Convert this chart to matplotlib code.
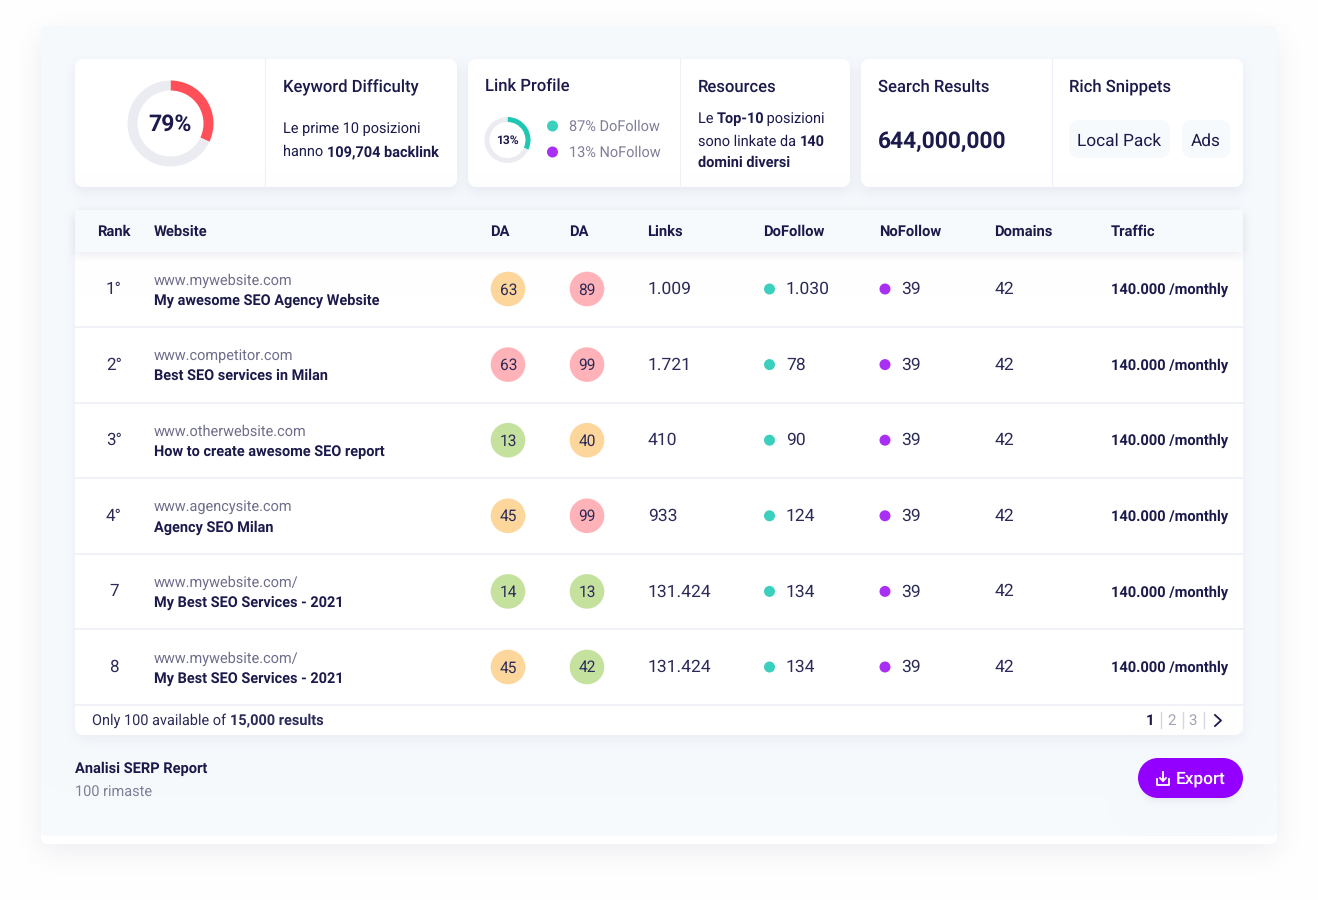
"""SERP report dashboard card, drawn in pixel coordinates."""
import math

import matplotlib

matplotlib.use("Agg")
import matplotlib.pyplot as plt
import numpy as np
from matplotlib.patches import Circle, FancyBboxPatch, Rectangle

plt.rcParams["font.family"] = ["Roboto", "DejaVu Sans"]
plt.rcParams["text.hinting"] = "no_hinting"

W, H = 1318, 900
NAVY = "#1b1a4b"
INK = "#2b2a58"
GREY = "#6e6d8a"
SOFT = "#7f7e98"
PANEL = "#f7fafd"
LINE = "#edf0f6"
TEAL = "#3bd0bd"
PURPLE = "#a92ff5"

# data
ranks = ["1°", "2°", "3°", "4°", "7", "8"]
urls = ["www.mywebsite.com", "www.competitor.com", "www.otherwebsite.com",
        "www.agencysite.com", "www.mywebsite.com/", "www.mywebsite.com/"]
titles = ["My awesome SEO Agency Website", "Best SEO services in Milan",
          "How to create awesome SEO report", "Agency SEO Milan",
          "My Best SEO Services - 2021", "My Best SEO Services - 2021"]
da_first = [63, 63, 13, 45, 14, 45]
da_first_level = ["mid", "high", "low", "mid", "low", "mid"]
da_second = [89, 99, 40, 99, 13, 42]
da_second_level = ["high", "high", "mid", "high", "low", "low"]
links = ["1.009", "1.721", "410", "933", "131.424", "131.424"]
dofollow = ["1.030", "78", "90", "124", "134", "134"]
nofollow = ["39", "39", "39", "39", "39", "39"]
domains = ["42", "42", "42", "42", "42", "42"]
traffic = ["140.000 /monthly"] * 6
headers = ["Rank", "Website", "DA", "DA", "Links", "DoFollow", "NoFollow", "Domains", "Traffic"]
pages = ["1", "2", "3"]
difficulty_arc = [32, 68]
link_arc = [32, 68]

level_colors = {"low": "#c4e29e", "mid": "#fdd69b", "high": "#ffb3b8"}
header_x = [97.5, 153.5, 490.5, 569.5, 647.5, 763.5, 879.5, 994.5, 1110.5]

fig = plt.figure(figsize=(W / 100, H / 100), dpi=100, facecolor="white")
ax = fig.add_axes([0, 0, 1, 1])
ax.set_xlim(0, W)
ax.set_ylim(H, 0)
ax.axis("off")

# soft shadows need more precision than 8-bit alpha stacking, so the
# backdrop is composited in float and shown as one image
canvas = np.ones((H, W, 3))
erf = np.vectorize(math.erf)
px = np.arange(W) + 0.5
py = np.arange(H) + 0.5


def rgb(color):
    return np.array(matplotlib.colors.to_rgb(color))


def paint_box(x0, y0, x1, y1, r, color):
    cx, cy = (x0 + x1) / 2, (y0 + y1) / 2
    qx = np.abs(px - cx)[None, :] - ((x1 - x0) / 2 - r)
    qy = np.abs(py - cy)[:, None] - ((y1 - y0) / 2 - r)
    dist = np.hypot(np.maximum(qx, 0), np.maximum(qy, 0)) + np.minimum(np.maximum(qx, qy), 0) - r
    mask = np.clip(0.5 - dist, 0, 1)[..., None]
    canvas[:] = canvas * (1 - mask) + rgb(color) * mask


def paint_shadow(x0, y0, x1, y1, sigma, dy, strength, color="#2a2a60"):
    s = sigma * math.sqrt(2)
    mx = 0.5 * (erf((px - x0) / s) - erf((px - x1) / s))
    my = 0.5 * (erf((py - y0 - dy) / s) - erf((py - y1 - dy) / s))
    mask = (my[:, None] * mx[None, :] * strength)[..., None]
    canvas[:] = canvas * (1 - mask) + rgb(color) * mask


def round_box(x0, y0, x1, y1, r=10, color="white", z=4):
    ax.add_patch(FancyBboxPatch((x0 + r, y0 + r), x1 - x0 - 2 * r, y1 - y0 - 2 * r,
                                boxstyle=f"round,pad={r},rounding_size={r}",
                                fc=color, ec="none", zorder=z))


def text(x, y, s, size=12, weight="normal", color=NAVY, ha="left", z=5):
    # y is the visual middle of the line; baselines keep neighbours level
    return ax.text(x, y + 0.36 * size - 0.2, s, fontsize=size * 0.72, fontweight=weight,
                   color=color, ha=ha, va="baseline", zorder=z)


def runs(x, y, parts, size=14.5, color=NAVY):
    # consecutive normal/bold pieces on one baseline
    renderer = fig.canvas.get_renderer()
    for s, weight in parts:
        t = text(x, y, s, size, weight, color)
        x += t.get_window_extent(renderer).width - (2 if weight == "bold" else 0)


def donut(cx, cy, radius, ring, values, color):
    inset = fig.add_axes([(cx - radius) / W, 1 - (cy + radius) / H, 2 * radius / W, 2 * radius / H])
    inset.pie(values, colors=[color, "#ebecf1"], startangle=90, counterclock=False,
              radius=1, wedgeprops={"width": ring / radius, "linewidth": 0})
    inset.set_xlim(-1, 1)
    inset.set_ylim(-1, 1)
    inset.patch.set_alpha(0)


# backdrop: outer panel, cards, table
paint_shadow(41, 30, 1277, 845, 15, 6, 0.09)
paint_box(41, 26, 1277, 844, 6, "white")
paint_box(41, 26, 1277, 836, 5, PANEL)
for x0, x1 in [(75, 457), (468, 850), (861, 1243)]:
    paint_shadow(x0, 59, x1, 187, 7, 5, 0.09)
paint_shadow(75, 210, 1243, 735, 7, 4, 0.07)
for x0, x1 in [(75, 457), (468, 850), (861, 1243)]:
    paint_box(x0, 59, x1, 187, 8, "white")
paint_box(75, 210, 1243, 735, 8, "white")
paint_shadow(75, 210, 1243, 252, 5, 3, 0.09)
paint_box(75, 210, 1243, 252, 0.5, PANEL)
paint_shadow(1146, 762, 1235, 796, 5, 3, 0.12)
ax.imshow(np.clip(canvas, 0, 1), extent=(0, W, H, 0), aspect="auto",
          interpolation="nearest", zorder=0)
ax.set_xlim(0, W)
ax.set_ylim(H, 0)

# top cards
for x in [265, 680, 1052]:
    ax.plot([x, x], [59, 187], color=LINE, lw=0.8, zorder=4)

donut(170.5, 123.5, 43, 10, difficulty_arc, "#ff4f58")
text(170.5, 123, "79%", 23, "bold", ha="center")
text(283, 86.5, "Keyword Difficulty", 16.6, "medium")
text(283, 128, "Le prime 10 posizioni", 14.5)
runs(283, 151, [("hanno ", "normal"), ("109,704 backlink", "bold")])

text(485, 86.5, "Link Profile", 16.6, "medium")
donut(507.5, 140, 23, 5, link_arc, "#1fc7b3")
text(507.5, 140, "13%", 12, "bold", ha="center")
ax.add_patch(Circle((552.5, 126), 5.5, fc=TEAL, ec="none", zorder=5))
ax.add_patch(Circle((552.5, 152), 5.5, fc=PURPLE, ec="none", zorder=5))
text(569, 126, "87% DoFollow", 14.5, color=SOFT)
text(569, 152, "13% NoFollow", 14.5, color=SOFT)

text(698, 86.5, "Resources", 16.6, "medium")
runs(698, 118, [("Le ", "normal"), ("Top-10", "bold"), (" posizioni", "normal")])
runs(698, 141, [("sono linkate da ", "normal"), ("140", "bold")])
text(698, 162, "domini diversi", 14.5, "bold")

text(878, 86.5, "Search Results", 16.6, "medium")
text(878, 140, "644,000,000", 22.8, "bold")
text(1069, 86.5, "Rich Snippets", 16.6, "medium")
round_box(1069, 120, 1170, 158, r=10, color=PANEL)
round_box(1182, 120, 1230, 158, r=10, color=PANEL)
text(1119.5, 139.5, "Local Pack", 17.2, ha="center")
text(1205.5, 139.5, "Ads", 17.2, ha="center")

# table
for x, label in zip(header_x, headers):
    text(x, 231, label, 14.7, "bold")

for i in range(len(ranks)):
    y = 289 + i * 75.6
    if i < len(ranks) - 1:
        ax.plot([75, 1243], [y + 38, y + 38], color=LINE, lw=1.2, zorder=4)
    text(114, y - 1, ranks[i], 17, color=INK, ha="center")
    text(153.5, y - 9.5, urls[i], 14.5, color=GREY)
    text(153.5, y + 10.5, titles[i], 14.55, "bold")
    ax.add_patch(Circle((508, y), 17.3, fc=level_colors[da_first_level[i]], ec="none", zorder=4))
    text(508.5, y, str(da_first[i]), 15.5, color=INK, ha="center")
    ax.add_patch(Circle((587, y), 17.3, fc=level_colors[da_second_level[i]], ec="none", zorder=4))
    text(587, y, str(da_second[i]), 15.5, color=INK, ha="center")
    text(648, y - 1, links[i], 17.5, color=INK)
    ax.add_patch(Circle((769.5, y), 5.5, fc=TEAL, ec="none", zorder=5))
    text(786, y - 1, dofollow[i], 17.5, color=INK)
    ax.add_patch(Circle((885, y), 5.5, fc=PURPLE, ec="none", zorder=5))
    text(901.5, y - 1, nofollow[i], 17.5, color=INK)
    text(995, y - 1, domains[i], 17.5, color=INK)
    text(1228, y, traffic[i], 14.6, "bold", ha="right")

# footer row
ax.plot([75, 1243], [704.5, 704.5], color=LINE, lw=1.2, zorder=4)
runs(92, 719.5, [("Only 100 available of ", "normal"), ("15,000 results", "bold")], color=INK)
for i, (x, page) in enumerate(zip([1150, 1171.5, 1193], pages)):
    text(x, 720, page, 15, "bold" if i == 0 else "normal",
         color=NAVY if i == 0 else "#a3a2b6", ha="center")
    ax.plot([x + 11, x + 11], [712, 728], color="#d5d7e2", lw=1, zorder=5)
ax.plot([1215, 1221, 1215], [715, 720.5, 726], color=NAVY, lw=1.3, zorder=5)

# bottom strip
text(75, 768, "Analisi SERP Report", 14.6, "bold")
text(75, 791, "100 rimaste", 14.5, color=SOFT)
ax.add_patch(Circle((1158, 778), 20, fc="#9400ff", ec="none", zorder=4))
ax.add_patch(Circle((1223, 778), 20, fc="#9400ff", ec="none", zorder=4))
ax.add_patch(Rectangle((1158, 758), 65, 40, fc="#9400ff", ec="none", zorder=4))
text(1176, 778, "Export", 17.2, "medium", color="white")
ax.plot([1157, 1157, 1169, 1169], [779, 784.5, 784.5, 779], color="white", lw=1.3, zorder=5)
ax.plot([1163, 1163], [772, 781], color="white", lw=1.3, zorder=5)
ax.plot([1160, 1163, 1166], [778, 781, 778], color="white", lw=1.3, zorder=5)

fig.savefig("out.png", dpi=100)
